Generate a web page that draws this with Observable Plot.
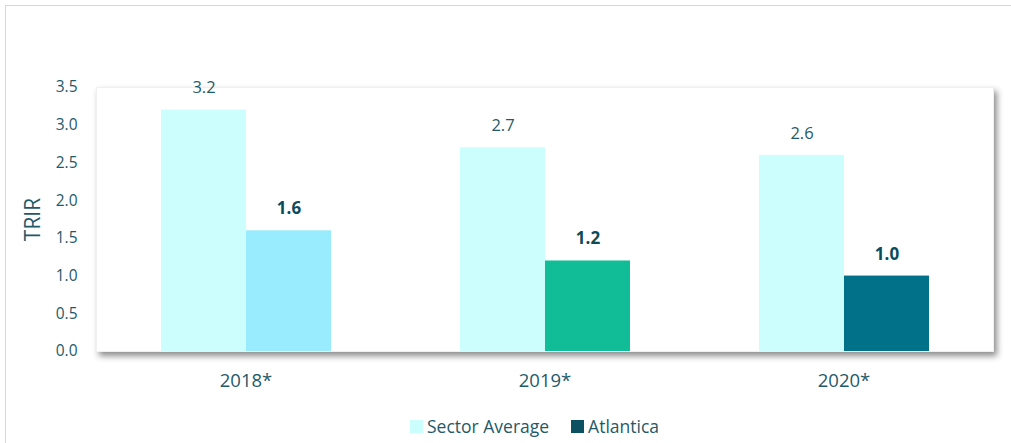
<!DOCTYPE html>
<html>
<head>
<meta charset="utf-8">
<script src="https://cdn.jsdelivr.net/npm/d3@7"></script>
<script src="https://cdn.jsdelivr.net/npm/@observablehq/plot@0.6"></script>
<style>
  html, body { margin: 0; padding: 0; background: #fff; width: 1011px; height: 443px; overflow: hidden; }
  body { position: relative; font-family: "Open Sans", "Noto Sans", sans-serif; }
  #border { position: absolute; left: 5px; top: 5px; width: 1100px; height: 600px; border: 1.5px solid #d6d6d6; box-sizing: border-box; }
  #chart { position: absolute; left: 0; top: 0; }
  #legend { position: absolute; left: 410px; top: 414px; display: flex; align-items: center; font-size: 17.5px; color: #1f5a68; white-space: nowrap; }
  #legend .sw { width: 13px; height: 13px; display: inline-block; margin-right: 4px; }
  #legend .item { display: flex; align-items: center; margin-right: 22px; }
</style>
</head>
<body>
<div id="border"></div>
<div id="chart"></div>
<div id="legend"></div>
<script>
const years = ["2018*", "2019*", "2020*"];
const sectorAverage = [3.2, 2.7, 2.6];
const atlantica = [1.6, 1.2, 1.0];
const seriesNames = ["Sector Average", "Atlantica"];
const yTicks = [0, 0.5, 1.0, 1.5, 2.0, 2.5, 3.0, 3.5];

const textColor = "#1f5a68";
const boldColor = "#0b4c5a";
const colorDomain = ["Sector Average", ...years];
const colorRange = ["#ccfefd", "#99ecfd", "#10bd97", "#007188"];
const legendColors = ["#ccfefd", "#0b5161"];

const rows = [];
years.forEach((y, i) => {
  rows.push({year: y, series: seriesNames[0], value: sectorAverage[i], key: seriesNames[0]});
  rows.push({year: y, series: seriesNames[1], value: atlantica[i], key: y});
});

const fmt = d3.format(".1f");

const plot = Plot.plot({
  width: 1011,
  height: 400,
  marginTop: 87,
  marginBottom: 49,
  marginLeft: 96,
  marginRight: 18,
  style: {fontFamily: "'Open Sans', 'Noto Sans', sans-serif", color: textColor, background: "transparent"},
  fx: {domain: years, padding: 0, label: null},
  x: {domain: seriesNames, paddingInner: 0, paddingOuter: 0.75, axis: null},
  y: {domain: [0, 3.5], label: null},
  color: {domain: colorDomain, range: colorRange},
  marks: [
    Plot.frame({facet: "super", fill: "white", stroke: "#f0f0f0"}),
    Plot.barY(rows, {fx: "year", x: "series", y: "value", fill: "key"}),
    Plot.text(rows.filter(d => d.series === seriesNames[0]), {
      fx: "year", x: "series", y: "value", text: d => fmt(d.value),
      dy: -22, fontSize: 16.5, fill: textColor
    }),
    Plot.text(rows.filter(d => d.series === seriesNames[1]), {
      fx: "year", x: "series", y: "value", text: d => fmt(d.value),
      dy: -22, fontSize: 17, fontWeight: "bold", fill: boldColor
    }),
    Plot.axisY({ticks: yTicks, tickFormat: fmt, tickSize: 0, tickPadding: 19, fontSize: 15.5, label: null, fill: textColor}),
    Plot.axisY({ticks: [], label: "TRIR", labelArrow: "none", labelAnchor: "center", labelOffset: 71, fontSize: 21, fill: textColor}),
    Plot.axisFx({anchor: "bottom", tickSize: 0, tickPadding: 22, fontSize: 18.5, label: null, fill: textColor})
  ]
});

document.getElementById("chart").appendChild(plot);

// soft drop shadow on the plot frame
d3.select(plot).selectAll('[aria-label="frame"]').style("filter", "drop-shadow(3px 4px 3px rgba(0,0,0,0.45))");

const legend = d3.select("#legend");
seriesNames.forEach((s, i) => {
  const item = legend.append("div").attr("class", "item");
  item.append("span").attr("class", "sw").style("background", legendColors[i]);
  item.append("span").text(s);
});
</script>
</body>
</html>
